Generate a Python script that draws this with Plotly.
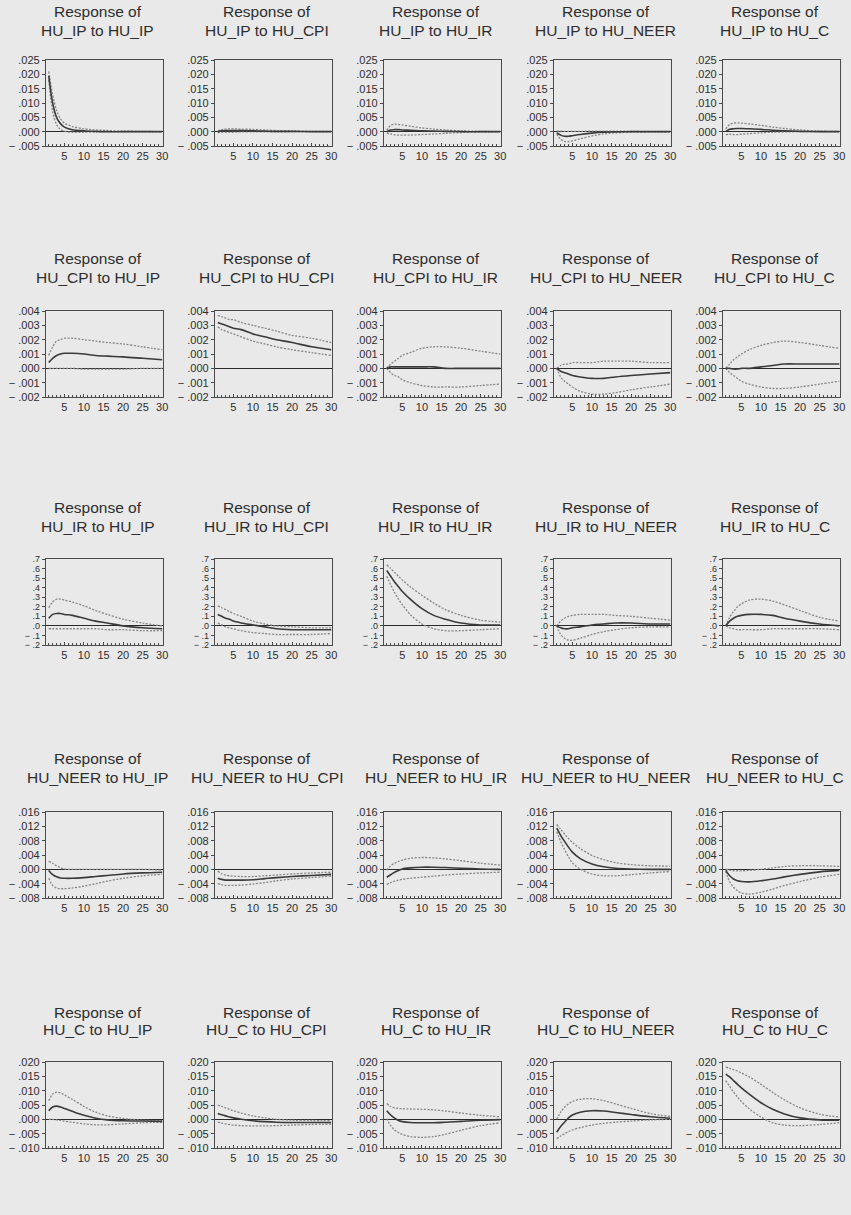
import plotly.graph_objects as go

# ---------------- data ----------------
PERIODS = [1, 2, 3, 4, 5, 7, 10, 13, 16, 20, 25, 30]
VARS = ["HU_IP", "HU_CPI", "HU_IR", "HU_NEER", "HU_C"]

# Row 1: response of HU_IP
R_IP_IP = [0.0195, 0.0100, 0.0050, 0.0028, 0.0016, 0.0007, 0.0003, 0.0001, 0.0, 0.0, 0.0, 0.0]
U_IP_IP = [0.0210, 0.0130, 0.0075, 0.0045, 0.0030, 0.0018, 0.0010, 0.0006, 0.0004, 0.0002, 0.0001, 0.0]
L_IP_IP = [0.0180, 0.0070, 0.0025, 0.0008, 0.0002, -0.0002, -0.0002, -0.0001, 0.0, 0.0, 0.0, 0.0]

R_IP_CPI = [0.0, 0.0003, 0.0004, 0.0004, 0.0004, 0.0004, 0.0003, 0.0002, 0.0001, 0.0001, 0.0, 0.0]
U_IP_CPI = [0.0003, 0.0007, 0.0009, 0.0010, 0.0010, 0.0009, 0.0008, 0.0006, 0.0004, 0.0003, 0.0001, 0.0001]
L_IP_CPI = [-0.0003, -0.0002, -0.0002, -0.0002, -0.0002, -0.0001, -0.0001, -0.0001, -0.0001, 0.0, 0.0, 0.0]

R_IP_IR = [0.0, 0.0006, 0.0007, 0.0007, 0.0006, 0.0005, 0.0003, 0.0002, 0.0001, 0.0, 0.0, 0.0]
U_IP_IR = [0.0005, 0.0022, 0.0026, 0.0025, 0.0023, 0.0019, 0.0013, 0.0009, 0.0006, 0.0003, 0.0001, 0.0]
L_IP_IR = [-0.0005, -0.0008, -0.0011, -0.0012, -0.0012, -0.0012, -0.0010, -0.0008, -0.0006, -0.0003, -0.0001, 0.0]

R_IP_NEER = [-0.0003, -0.0012, -0.0016, -0.0016, -0.0014, -0.0010, -0.0005, -0.0002, -0.0001, 0.0, 0.0, 0.0]
U_IP_NEER = [0.0002, 0.0002, 0.0001, 0.0001, 0.0001, 0.0001, 0.0002, 0.0002, 0.0002, 0.0001, 0.0, 0.0]
L_IP_NEER = [-0.0008, -0.0026, -0.0034, -0.0035, -0.0032, -0.0025, -0.0015, -0.0008, -0.0004, -0.0002, -0.0001, 0.0]

R_IP_C = [0.0, 0.0008, 0.0010, 0.0011, 0.0011, 0.0010, 0.0008, 0.0005, 0.0003, 0.0001, 0.0, 0.0]
U_IP_C = [0.0010, 0.0025, 0.0030, 0.0031, 0.0030, 0.0027, 0.0022, 0.0016, 0.0011, 0.0006, 0.0002, 0.0001]
L_IP_C = [-0.0010, -0.0009, -0.0010, -0.0010, -0.0009, -0.0007, -0.0004, -0.0002, -0.0001, 0.0, 0.0, 0.0]

# Row 2: response of HU_CPI
R_CPI_IP = [0.0004, 0.0007, 0.0009, 0.0010, 0.00105, 0.00105, 0.0010, 0.0009, 0.00085, 0.0008, 0.0007, 0.0006]
U_CPI_IP = [0.0009, 0.0015, 0.0019, 0.0020, 0.0021, 0.0021, 0.0020, 0.0019, 0.0018, 0.0017, 0.0015, 0.0013]
L_CPI_IP = [0.0, 0.0, 0.0, 0.0, 0.0, 0.0, -0.00005, -0.00005, -0.00005, -0.00005, 0.0, 0.0]

R_CPI_CPI = [0.0032, 0.0031, 0.0030, 0.0029, 0.0028, 0.0027, 0.0024, 0.0022, 0.0020, 0.0018, 0.0015, 0.0013]
U_CPI_CPI = [0.0037, 0.0036, 0.0035, 0.0034, 0.0034, 0.0032, 0.0030, 0.0028, 0.0026, 0.0023, 0.0021, 0.0018]
L_CPI_CPI = [0.0029, 0.0027, 0.0026, 0.0025, 0.0024, 0.0022, 0.0019, 0.0017, 0.0015, 0.0013, 0.0011, 0.0009]

R_CPI_IR = [0.0, 0.0001, 0.0001, 0.0001, 0.0001, 0.0001, 0.0001, 0.0001, 0.0, 0.0, 0.0, 0.0]
U_CPI_IR = [0.0, 0.0003, 0.0005, 0.0007, 0.0009, 0.0011, 0.0014, 0.0015, 0.0015, 0.0014, 0.0012, 0.0010]
L_CPI_IR = [0.0, -0.0003, -0.0005, -0.0006, -0.0008, -0.0010, -0.0012, -0.0013, -0.0013, -0.0013, -0.0012, -0.0011]

R_CPI_NEER = [0.0, -0.0002, -0.0003, -0.0004, -0.0005, -0.0006, -0.0007, -0.0007, -0.0006, -0.0005, -0.0004, -0.0003]
U_CPI_NEER = [0.0, 0.0002, 0.0003, 0.0003, 0.0004, 0.0004, 0.0004, 0.0005, 0.0005, 0.0005, 0.0004, 0.0004]
L_CPI_NEER = [0.0, -0.0006, -0.0009, -0.0011, -0.0013, -0.0016, -0.0018, -0.0018, -0.0017, -0.0015, -0.0013, -0.0011]

R_CPI_C = [0.0, 0.0, -0.00005, -0.00005, 0.0, 0.0, 0.0001, 0.0002, 0.0003, 0.0003, 0.0003, 0.0003]
U_CPI_C = [0.0, 0.0003, 0.0006, 0.0008, 0.0010, 0.0013, 0.0016, 0.0018, 0.0019, 0.0018, 0.0016, 0.0014]
L_CPI_C = [0.0, -0.0003, -0.0005, -0.0007, -0.0009, -0.0011, -0.0013, -0.0014, -0.0014, -0.0013, -0.0011, -0.0009]

# Row 3: response of HU_IR
R_IR_IP = [0.08, 0.12, 0.13, 0.13, 0.12, 0.11, 0.08, 0.05, 0.03, 0.0, -0.02, -0.03]
U_IR_IP = [0.19, 0.25, 0.28, 0.28, 0.27, 0.25, 0.21, 0.16, 0.12, 0.07, 0.03, 0.0]
L_IR_IP = [-0.03, -0.03, -0.03, -0.03, -0.03, -0.03, -0.03, -0.03, -0.04, -0.04, -0.05, -0.05]

R_IR_CPI = [0.12, 0.10, 0.08, 0.07, 0.05, 0.03, 0.01, -0.01, -0.03, -0.04, -0.04, -0.04]
U_IR_CPI = [0.21, 0.19, 0.17, 0.15, 0.13, 0.10, 0.05, 0.02, 0.0, -0.01, -0.02, -0.02]
L_IR_CPI = [0.03, 0.01, -0.01, -0.02, -0.03, -0.05, -0.07, -0.08, -0.09, -0.09, -0.09, -0.08]

R_IR_IR = [0.58, 0.52, 0.46, 0.41, 0.36, 0.28, 0.18, 0.11, 0.07, 0.03, 0.01, 0.01]
U_IR_IR = [0.64, 0.60, 0.56, 0.52, 0.48, 0.41, 0.32, 0.24, 0.17, 0.11, 0.06, 0.04]
L_IR_IR = [0.52, 0.43, 0.35, 0.28, 0.22, 0.12, 0.02, -0.03, -0.05, -0.05, -0.04, -0.03]

R_IR_NEER = [0.0, -0.02, -0.03, -0.03, -0.02, -0.01, 0.01, 0.02, 0.03, 0.03, 0.02, 0.02]
U_IR_NEER = [0.0, 0.05, 0.08, 0.10, 0.11, 0.12, 0.12, 0.12, 0.11, 0.10, 0.08, 0.06]
L_IR_NEER = [0.0, -0.09, -0.13, -0.15, -0.15, -0.13, -0.09, -0.06, -0.04, -0.02, -0.01, -0.01]

R_IR_C = [0.0, 0.05, 0.08, 0.10, 0.11, 0.12, 0.12, 0.11, 0.08, 0.05, 0.02, 0.0]
U_IR_C = [0.0, 0.09, 0.15, 0.20, 0.23, 0.27, 0.28, 0.26, 0.22, 0.16, 0.09, 0.05]
L_IR_C = [0.0, -0.02, -0.03, -0.04, -0.04, -0.04, -0.04, -0.03, -0.03, -0.03, -0.03, -0.04]

# Row 4: response of HU_NEER
R_NEER_IP = [-0.0003, -0.0015, -0.0021, -0.0024, -0.0025, -0.0025, -0.0023, -0.0020, -0.0017, -0.0013, -0.0010, -0.0008]
U_NEER_IP = [0.0022, 0.0017, 0.0010, 0.0005, 0.0001, 0.0, 0.0, 0.0, 0.0, 0.0, 0.0, -0.0002]
L_NEER_IP = [-0.0025, -0.0045, -0.0052, -0.0054, -0.0054, -0.0052, -0.0047, -0.0040, -0.0033, -0.0025, -0.0018, -0.0014]

R_NEER_CPI = [-0.0025, -0.0028, -0.0030, -0.0030, -0.0030, -0.0030, -0.0029, -0.0026, -0.0023, -0.0020, -0.0017, -0.0014]
U_NEER_CPI = [-0.0005, -0.0012, -0.0016, -0.0018, -0.0019, -0.0020, -0.0020, -0.0018, -0.0016, -0.0013, -0.0010, -0.0008]
L_NEER_CPI = [-0.0040, -0.0043, -0.0045, -0.0045, -0.0045, -0.0044, -0.0041, -0.0037, -0.0032, -0.0027, -0.0023, -0.0019]

R_NEER_IR = [-0.0022, -0.0015, -0.0008, -0.0003, 0.0001, 0.0004, 0.0006, 0.0006, 0.0005, 0.0003, 0.0001, 0.0]
U_NEER_IR = [-0.0002, 0.0010, 0.0017, 0.0022, 0.0026, 0.0031, 0.0033, 0.0032, 0.0029, 0.0024, 0.0017, 0.0012]
L_NEER_IR = [-0.0042, -0.0037, -0.0033, -0.0030, -0.0028, -0.0025, -0.0022, -0.0019, -0.0016, -0.0013, -0.0010, -0.0008]

R_NEER_NEER = [0.0115, 0.0095, 0.0078, 0.0062, 0.0048, 0.0030, 0.0015, 0.0007, 0.0003, 0.0001, 0.0, 0.0]
U_NEER_NEER = [0.0125, 0.0112, 0.0098, 0.0086, 0.0075, 0.0058, 0.0039, 0.0027, 0.0019, 0.0013, 0.0010, 0.0009]
L_NEER_NEER = [0.0105, 0.0078, 0.0055, 0.0035, 0.0018, 0.0001, -0.0013, -0.0018, -0.0018, -0.0015, -0.0010, -0.0006]

R_NEER_C = [-0.0003, -0.0018, -0.0027, -0.0032, -0.0034, -0.0035, -0.0032, -0.0027, -0.0021, -0.0014, -0.0007, -0.0003]
U_NEER_C = [0.0, -0.0002, -0.0004, -0.0004, -0.0004, -0.0003, 0.0, 0.0004, 0.0008, 0.0010, 0.0010, 0.0008]
L_NEER_C = [-0.0006, -0.0035, -0.0050, -0.0060, -0.0066, -0.0069, -0.0064, -0.0055, -0.0045, -0.0034, -0.0022, -0.0014]

# Row 5: response of HU_C
R_C_IP = [0.0030, 0.0043, 0.0046, 0.0043, 0.0038, 0.0028, 0.0014, 0.0004, -0.0002, -0.0005, -0.0006, -0.0007]
U_C_IP = [0.0065, 0.0088, 0.0095, 0.0092, 0.0085, 0.0070, 0.0045, 0.0025, 0.0012, 0.0003, -0.0003, -0.0005]
L_C_IP = [0.0, 0.0, -0.0002, -0.0004, -0.0006, -0.0010, -0.0016, -0.0019, -0.0019, -0.0016, -0.0012, -0.0010]

R_C_CPI = [0.0020, 0.0016, 0.0012, 0.0008, 0.0005, 0.0, -0.0005, -0.0008, -0.0010, -0.0011, -0.0011, -0.0011]
U_C_CPI = [0.0050, 0.0045, 0.0040, 0.0035, 0.0030, 0.0022, 0.0012, 0.0005, 0.0, -0.0003, -0.0004, -0.0005]
L_C_CPI = [-0.0010, -0.0013, -0.0016, -0.0018, -0.0020, -0.0022, -0.0023, -0.0023, -0.0022, -0.0020, -0.0018, -0.0017]

R_C_IR = [0.0030, 0.0015, 0.0004, -0.0004, -0.0008, -0.0011, -0.0012, -0.0012, -0.0010, -0.0007, -0.0003, -0.0001]
U_C_IR = [0.0055, 0.0045, 0.0040, 0.0038, 0.0037, 0.0036, 0.0035, 0.0033, 0.0029, 0.0022, 0.0014, 0.0009]
L_C_IR = [0.0003, -0.0022, -0.0037, -0.0046, -0.0053, -0.0060, -0.0063, -0.0060, -0.0052, -0.0038, -0.0022, -0.0012]

R_C_NEER = [-0.0045, -0.0025, -0.0010, 0.0005, 0.0015, 0.0025, 0.0030, 0.0029, 0.0024, 0.0017, 0.0009, 0.0004]
U_C_NEER = [0.0, 0.0025, 0.0042, 0.0054, 0.0062, 0.0070, 0.0072, 0.0065, 0.0054, 0.0038, 0.0020, 0.0010]
L_C_NEER = [-0.0068, -0.0058, -0.0050, -0.0043, -0.0037, -0.0029, -0.0020, -0.0014, -0.0010, -0.0006, -0.0002, 0.0]

R_C_C = [0.0158, 0.0148, 0.0135, 0.0122, 0.0110, 0.0088, 0.0058, 0.0035, 0.0019, 0.0005, -0.0002, -0.0003]
U_C_C = [0.0182, 0.0178, 0.0173, 0.0168, 0.0162, 0.0148, 0.0122, 0.0094, 0.0068, 0.0040, 0.0018, 0.0008]
L_C_C = [0.0135, 0.0115, 0.0095, 0.0078, 0.0062, 0.0037, 0.0008, -0.0012, -0.0020, -0.0022, -0.0018, -0.0012]

# y-axis ticks per row
Y_TICKS_IP = [-0.005, 0.0, 0.005, 0.010, 0.015, 0.020, 0.025]
Y_LABELS_IP = ["\u2212 .005", ".000", ".005", ".010", ".015", ".020", ".025"]
Y_TICKS_CPI = [-0.002, -0.001, 0.0, 0.001, 0.002, 0.003, 0.004]
Y_LABELS_CPI = ["\u2212 .002", "\u2212 .001", ".000", ".001", ".002", ".003", ".004"]
Y_TICKS_IR = [-0.2, -0.1, 0.0, 0.1, 0.2, 0.3, 0.4, 0.5, 0.6, 0.7]
Y_LABELS_IR = ["\u2212 .2", "\u2212 .1", ".0", ".1", ".2", ".3", ".4", ".5", ".6", ".7"]
Y_TICKS_NEER = [-0.008, -0.004, 0.0, 0.004, 0.008, 0.012, 0.016]
Y_LABELS_NEER = ["\u2212 .008", "\u2212 .004", ".000", ".004", ".008", ".012", ".016"]
Y_TICKS_C = [-0.010, -0.005, 0.0, 0.005, 0.010, 0.015, 0.020]
Y_LABELS_C = ["\u2212 .010", "\u2212 .005", ".000", ".005", ".010", ".015", ".020"]
X_TICKS = [5, 10, 15, 20, 25, 30]

# ---------------- assembly ----------------
PANELS = [
    [(R_IP_IP, U_IP_IP, L_IP_IP), (R_IP_CPI, U_IP_CPI, L_IP_CPI), (R_IP_IR, U_IP_IR, L_IP_IR),
     (R_IP_NEER, U_IP_NEER, L_IP_NEER), (R_IP_C, U_IP_C, L_IP_C)],
    [(R_CPI_IP, U_CPI_IP, L_CPI_IP), (R_CPI_CPI, U_CPI_CPI, L_CPI_CPI), (R_CPI_IR, U_CPI_IR, L_CPI_IR),
     (R_CPI_NEER, U_CPI_NEER, L_CPI_NEER), (R_CPI_C, U_CPI_C, L_CPI_C)],
    [(R_IR_IP, U_IR_IP, L_IR_IP), (R_IR_CPI, U_IR_CPI, L_IR_CPI), (R_IR_IR, U_IR_IR, L_IR_IR),
     (R_IR_NEER, U_IR_NEER, L_IR_NEER), (R_IR_C, U_IR_C, L_IR_C)],
    [(R_NEER_IP, U_NEER_IP, L_NEER_IP), (R_NEER_CPI, U_NEER_CPI, L_NEER_CPI), (R_NEER_IR, U_NEER_IR, L_NEER_IR),
     (R_NEER_NEER, U_NEER_NEER, L_NEER_NEER), (R_NEER_C, U_NEER_C, L_NEER_C)],
    [(R_C_IP, U_C_IP, L_C_IP), (R_C_CPI, U_C_CPI, L_C_CPI), (R_C_IR, U_C_IR, L_C_IR),
     (R_C_NEER, U_C_NEER, L_C_NEER), (R_C_C, U_C_C, L_C_C)],
]
ROW_TICKS = [(Y_TICKS_IP, Y_LABELS_IP), (Y_TICKS_CPI, Y_LABELS_CPI), (Y_TICKS_IR, Y_LABELS_IR),
             (Y_TICKS_NEER, Y_LABELS_NEER), (Y_TICKS_C, Y_LABELS_C)]

W, H = 851, 1215
COL_LEFT = [46, 215, 384, 554, 723]
PLOT_W = 117
ROW_TOP = [60, 311, 559, 812, 1062]
PLOT_H = 86
# distance (px) from plot top to the centre of title line 1 / line 2
TITLE_L1 = [48, 53, 52, 54, 50]
TITLE_L2 = [30, 33, 33, 35, 33]

BG = "#e9e9e9"
AXIS_COL = "#4a4a4a"
TEXT_COL = "#2e2e2e"
FONT = "Liberation Sans, Arial, sans-serif"

fig = go.Figure()
layout = dict(
    template="none",
    width=W, height=H, margin=dict(l=0, r=0, t=0, b=0),
    paper_bgcolor=BG, plot_bgcolor=BG, showlegend=False,
    font=dict(family=FONT, color=TEXT_COL),
)
annotations = []

for i in range(5):
    tv, tt = ROW_TICKS[i]
    ysize = 9 if i == 2 else 11
    for j in range(5):
        k = i * 5 + j + 1
        sx = "" if k == 1 else str(k)
        resp, up, lo = PANELS[i][j]
        for series, color, width, dash in ((up, "#858585", 1.3, "2px,1.5px"),
                                            (lo, "#858585", 1.3, "2px,1.5px"),
                                            (resp, "#3a3a3a", 1.6, "solid")):
            fig.add_trace(go.Scatter(
                x=PERIODS, y=series, mode="lines", xaxis="x" + sx, yaxis="y" + sx,
                line=dict(color=color, width=width, dash=dash, shape="spline", smoothing=0.9),
                hoverinfo="skip"))
        x0 = COL_LEFT[j] / W
        x1 = (COL_LEFT[j] + PLOT_W) / W
        y1 = 1 - ROW_TOP[i] / H
        y0 = 1 - (ROW_TOP[i] + PLOT_H) / H
        layout["xaxis" + sx] = dict(
            domain=[x0, x1], anchor="y" + sx, range=[0.3, 30.2],
            tickmode="array", tickvals=X_TICKS, ticktext=[str(v) for v in X_TICKS],
            ticks="inside", ticklen=3, tickwidth=1, tickcolor=AXIS_COL,
            minor=dict(dtick=1, tick0=0, ticks="inside", ticklen=2, tickcolor=AXIS_COL, showgrid=False),
            showline=True, linecolor=AXIS_COL, linewidth=1.3, mirror=True,
            showgrid=False, zeroline=False,
            tickfont=dict(size=11, color=TEXT_COL, family=FONT),
        )
        layout["yaxis" + sx] = dict(
            domain=[y0, y1], anchor="x" + sx, range=[tv[0], tv[-1]],
            tickmode="array", tickvals=tv, ticktext=tt,
            ticks="outside", ticklen=3, tickwidth=1, tickcolor=AXIS_COL,
            showline=True, linecolor=AXIS_COL, linewidth=1.3, mirror=True,
            showgrid=False, zeroline=True, zerolinecolor="#2a2a2a", zerolinewidth=1.2,
            tickfont=dict(size=ysize, color=TEXT_COL, family=FONT),
        )
        cx = (COL_LEFT[j] + PLOT_W / 2 - 7) / W
        for text, off in (("Response of", TITLE_L1[i]),
                          ("%s to %s" % (VARS[i], VARS[j]), TITLE_L2[i])):
            annotations.append(dict(
                xref="paper", yref="paper", x=cx, y=1 - (ROW_TOP[i] - off) / H,
                xanchor="center", yanchor="middle", showarrow=False, text=text,
                font=dict(size=15.5, color=TEXT_COL, family=FONT),
            ))

layout["annotations"] = annotations
fig.update_layout(**layout)
fig.write_html("out.html", config={"displayModeBar": False},
               post_script="document.body.style.margin='0';")
